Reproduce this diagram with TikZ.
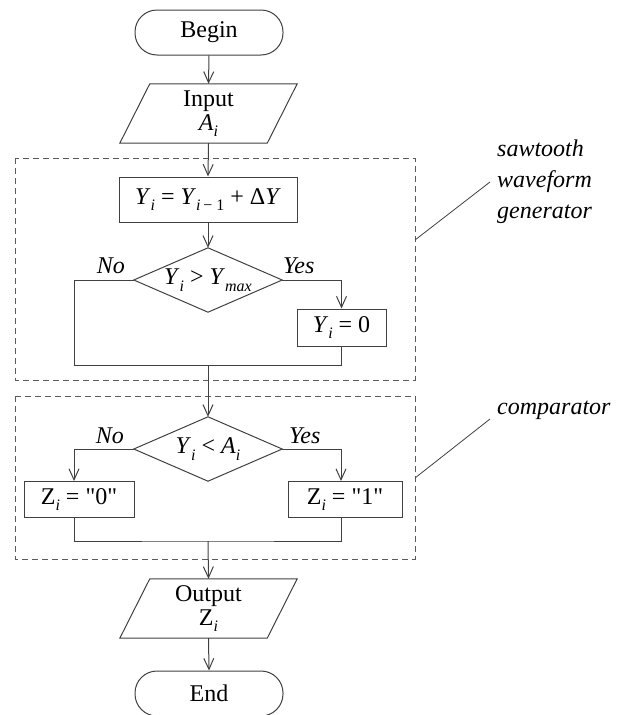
\documentclass[tikz,border=0pt]{standalone}
\usepackage{fontspec}
\setmainfont{Liberation Serif}
\newfontfamily\qfont{Liberation Serif}[Ligatures=TeXOff]
\usetikzlibrary{arrows.meta}
\definecolor{ln}{HTML}{404040}
\definecolor{dl}{HTML}{5a5a5a}
\newcommand\mysub[1]{\raisebox{-0.27em}{\fontsize{16}{16}\selectfont\itshape #1}}
\newcommand\iv[1]{\textit{#1}}
\newcommand\qq{{\qfont"}}
\begin{document}
\begin{tikzpicture}[x=1pt,y=-1pt,
  font=\fontsize{24}{25}\selectfont,
  blk/.style={draw=ln, line width=1pt, inner sep=0pt},
  holder/.style={inner sep=0pt, align=center},
  flow/.style={draw=ln, line width=1pt, -{Straight Barb[length=11pt,width=10pt]}},
  conn/.style={draw=ln, line width=1pt},
  grp/.style={draw=dl, line width=1pt, dash pattern=on 6pt off 4pt},
  lbl/.style={font=\fontsize{24}{31}\selectfont\itshape, align=left, inner sep=0pt},
  yn/.style={font=\fontsize{24}{25}\selectfont\itshape, inner sep=0pt}]
\useasboundingbox (0,0) rectangle (619,715);

% groups
\draw[grp] (15,158) rectangle (415,380);
\draw[grp] (15,396) rectangle (415,559);

% nodes
\node[blk, rounded corners=22pt, minimum width=148pt, minimum height=45pt] (begin) at (209,32.5) {Begin};
\node[holder, minimum width=177pt, minimum height=59pt] (input) at (208.5,113.5) {Input\\[-1pt]\iv{A}\mysub{i}};
\draw[conn] ([xshift=30pt]input.north west) -- (input.north east) -- ([xshift=-30pt]input.south east) -- (input.south west) -- cycle;

\node[blk, minimum width=178pt, minimum height=45pt] (yupd) at (208,199.5) {\iv{Y}\mysub{i} = \iv{Y}\mysub{i\,\upshape − 1} + Δ\iv{Y}};
\node[holder, minimum width=148pt, minimum height=64pt] (d1) at (208,280) {\iv{Y}\mysub{i} > \iv{Y}\mysub{max}};
\draw[conn] (d1.north) -- (d1.east) -- (d1.south) -- (d1.west) -- cycle;
\node[blk, minimum width=89pt, minimum height=37pt] (y0) at (341.5,327.5) {\iv{Y}\mysub{i} = 0};
\coordinate (m1) at (208,365);

\node[holder, minimum width=148pt, minimum height=64pt] (d2) at (208,449) {\iv{Y}\mysub{i} < \iv{A}\mysub{i}};
\draw[conn] (d2.north) -- (d2.east) -- (d2.south) -- (d2.west) -- cycle;
\node[blk, minimum width=110pt, minimum height=36pt] (z0) at (79,499.5) {Z\mysub{i} = \qq0\qq};
\node[blk, minimum width=114pt, minimum height=36pt] (z1) at (345,499.5) {Z\mysub{i} = \qq1\qq};
\coordinate (m2) at (208,541);

\node[holder, minimum width=177pt, minimum height=59pt] (output) at (208.5,608.5) {Output\\[-1pt]Z\mysub{i}};
\draw[conn] ([xshift=30pt]output.north west) -- (output.north east) -- ([xshift=-30pt]output.south east) -- (output.south west) -- cycle;
\node[blk, rounded corners=22pt, minimum width=148pt, minimum height=45pt] (end) at (209,693.5) {End};

% connectors
\draw[flow] (begin.south) -- (input.north);
\draw[flow] (input.south) -- (yupd.north);
\draw[flow] (yupd.south) -- (d1.north);
\draw[flow] (d1.east) -| (y0.north);
\draw[conn] (d1.west) -| (74,365) -| (y0.south);
\draw[flow] (m1) -- (d2.north);
\draw[flow] (d2.west) -| ([xshift=-5pt]z0.north);
\draw[flow] (d2.east) -| ([xshift=-4pt]z1.north);
\draw[conn] ([xshift=-5pt]z0.south) |- (m2) -| ([xshift=-4pt]z1.south);
\draw[flow] (m2) -- (output.north);
\draw[flow] (output.south) -- (end.north);

% yes/no labels
\node[yn, anchor=base east] (no1) at (125,273) {No};
\node[yn, anchor=base west] (yes1) at (283,273) {Yes};
\node[yn, anchor=base east] (no2) at (124,443) {No};
\node[yn, anchor=base west] (yes2) at (289,443) {Yes};

% annotations
\node[lbl, anchor=west] (saw) at (497,182) {sawtooth\\waveform\\generator};
\node[lbl, anchor=west] (cmp) at (497,410) {comparator};
\coordinate (s1) at (415,240);
\coordinate (c1) at (415,478);
\draw[draw=ln, line width=0.8pt] (s1) -- (490,182);
\draw[draw=ln, line width=0.8pt] (c1) -- (490,419);
\end{tikzpicture}
\end{document}
